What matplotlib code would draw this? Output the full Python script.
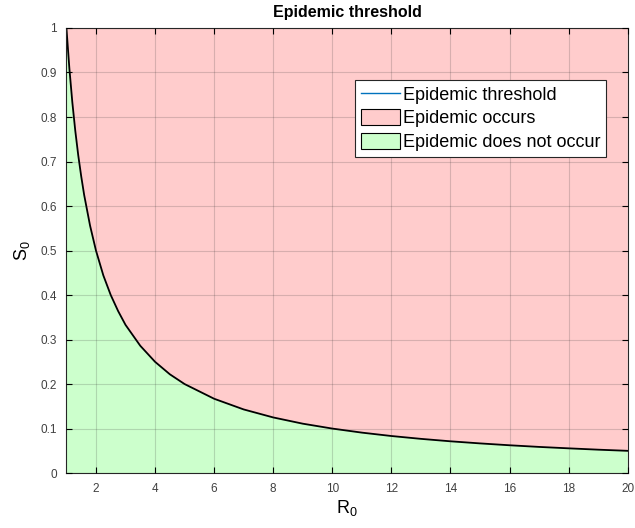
import matplotlib
matplotlib.use('Agg')
import matplotlib.pyplot as plt
from matplotlib.patches import Patch
from matplotlib.lines import Line2D

plt.rcParams['font.family'] = ['Liberation Sans', 'DejaVu Sans']

r0 = [1, 1.1, 1.2, 1.3, 1.4, 1.5, 1.6, 1.8, 2, 2.25, 2.5, 2.75, 3, 3.5, 4, 4.5, 5,
      6, 7, 8, 9, 10, 11, 12, 13, 14, 15, 16, 17, 18, 19, 20]
s0 = [1, 0.909, 0.833, 0.769, 0.714, 0.667, 0.625, 0.556, 0.5, 0.444, 0.4, 0.364,
      0.333, 0.286, 0.25, 0.222, 0.2, 0.167, 0.143, 0.125, 0.111, 0.1, 0.0909,
      0.0833, 0.0769, 0.0714, 0.0667, 0.0625, 0.0588, 0.0556, 0.0526, 0.05]
xticks = [2, 4, 6, 8, 10, 12, 14, 16, 18, 20]
yticks = [0, 0.1, 0.2, 0.3, 0.4, 0.5, 0.6, 0.7, 0.8, 0.9, 1]
ylabels = ['0', '0.1', '0.2', '0.3', '0.4', '0.5', '0.6', '0.7', '0.8', '0.9', '1']

red = (1, 0.8, 0.8)
green = (0.8, 1, 0.8)
blue = (0, 0.447, 0.741)

fig = plt.figure(figsize=(6.35, 5.28), dpi=100)
ax = fig.add_axes([0.1046, 0.104, 0.884, 0.843])

ax.fill_between(r0, s0, 1, facecolor=red, edgecolor='none')
ax.fill_between(r0, 0, s0, facecolor=green, edgecolor='none')
ax.plot(r0, s0, color='black', lw=1.3)

ax.set_xlim(1, 20)
ax.set_ylim(0, 1)
ax.set_xticks(xticks)
ax.set_yticks(yticks)
ax.set_yticklabels(ylabels)
ax.tick_params(direction='in', labelsize=8.5, labelcolor='#404040', length=4, width=0.8,
               top=True, right=True, pad=7)
ax.grid(True, color='#262626', alpha=0.18, lw=0.8)
ax.set_axisbelow(False)
for s in ax.spines.values():
    s.set_linewidth(0.8)
    s.set_color('#262626')

ax.set_title('Epidemic threshold', fontsize=11.5, fontweight='bold', pad=8)
ax.set_xlabel('$\\mathregular{R_0}$', fontsize=13, labelpad=2)
ax.set_ylabel('$\\mathregular{S_0}$', fontsize=13, labelpad=6)

handles = [Line2D([], [], color=blue, lw=1),
           Patch(facecolor=red, edgecolor='black', lw=0.8),
           Patch(facecolor=green, edgecolor='black', lw=0.8)]
leg = ax.legend(handles, ['Epidemic threshold', 'Epidemic occurs', 'Epidemic does not occur'],
                loc='upper right', bbox_to_anchor=(0.961, 0.883), fontsize=13,
                fancybox=False, framealpha=1, edgecolor='#262626',
                handlelength=2.2, handleheight=1.0, handletextpad=0.15,
                borderpad=0.3, labelspacing=0.3, borderaxespad=0)
leg.get_frame().set_linewidth(0.8)

fig.savefig('out.png', dpi=100)
